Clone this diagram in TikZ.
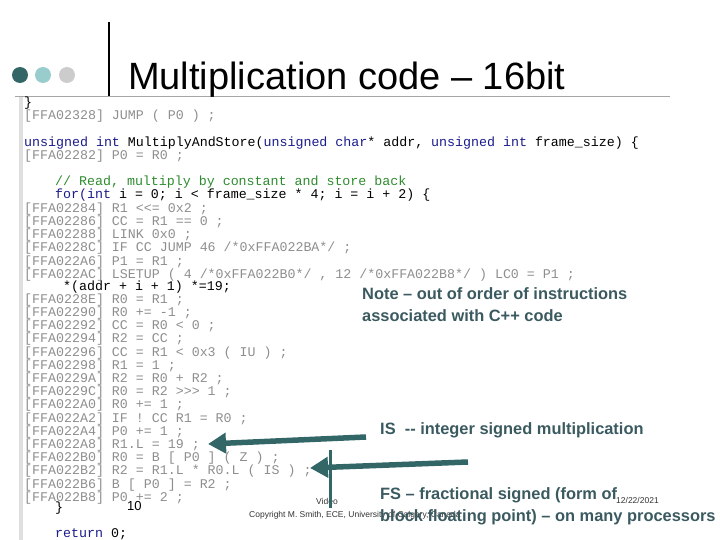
\documentclass[tikz,border=0pt]{standalone}
\usepackage{fontspec}
\setmainfont{Liberation Sans}
\newfontfamily\codefont{Liberation Mono}
\usetikzlibrary{arrows.meta}
\definecolor{teal1}{HTML}{336666}
\definecolor{teal2}{HTML}{99CCCC}
\definecolor{gray3}{HTML}{CCCCCC}
\definecolor{asm}{HTML}{8E8E8E}
\definecolor{kw}{HTML}{1A1A8C}
\definecolor{cm}{HTML}{2E8B2E}
\definecolor{note}{HTML}{3A5A60}
\begin{document}
\begin{tikzpicture}[x=1pt,y=-1pt,
  code/.style={anchor=base west,inner sep=0pt,font=\codefont\fontsize{13.3}{13}\selectfont},
  asmline/.style={code,text=asm},
  cline/.style={code,text=black},
  notetext/.style={anchor=base west,inner sep=0pt,text=note,font=\bfseries\fontsize{16.4}{17}\selectfont},
  small/.style={anchor=base west,inner sep=0pt,text=black!80,font=\fontsize{8.5}{9}\selectfont},
  arr/.style={teal1,line width=5.5pt,-{Triangle[length=18pt,width=20pt]}}]
\useasboundingbox (0,0) rectangle (720,540);
% header
\fill[teal1] (20,75) circle (8);
\fill[teal2] (43,75) circle (8);
\fill[gray3] (67,75) circle (8);
\draw[line width=2.5pt] (109,22) -- (109,96);
\draw[gray!70,line width=0.8pt] (15,96) -- (670,96);
\node[anchor=base west,inner sep=0pt,font=\fontsize{38}{38}\selectfont] (title) at (128,90) {Multiplication code -- 16bit};
\fill[gray!25] (19,97) rectangle (23,540);
% code
\node[cline] (l1) at (24,107) {\}};
\node[asmline] (l2) at (24,120) {[FFA02328] JUMP ( P0 ) ;};
\node[cline] (l3) at (24,147) {\textcolor{kw}{unsigned int} MultiplyAndStore(\textcolor{kw}{unsigned char}* addr, \textcolor{kw}{unsigned int} frame\_size) \{};
\node[asmline] (l4) at (24,160) {[FFA02282] P0 = R0 ;};
\node[code,text=cm] (l5) at (55,186) {// Read, multiply by constant and store back};
\node[cline] (l6) at (55,199) {\textcolor{kw}{for(int} i = 0; i < frame\_size * 4; i = i + 2) \{};
\foreach \t [count=\i] in {%
 {[FFA02284] R1 <<= 0x2 ;},
 {[FFA02286] CC = R1 == 0 ;},
 {[FFA02288] LINK 0x0 ;},
 {[FFA0228C] IF CC JUMP 46 /*0xFFA022BA*/ ;},
 {[FFA022A6] P1 = R1 ;},
 {[FFA022AC] LSETUP ( 4 /*0xFFA022B0*/ , 12 /*0xFFA022B8*/ ) LC0 = P1 ;}}
 \node[asmline] (a\i) at (24,{199+13.2*\i}) {\t};
\node[cline] (l7) at (63,290) {*(addr + i + 1) *=19;};
\foreach \t [count=\i] in {%
 {[FFA0228E] R0 = R1 ;},
 {[FFA02290] R0 += -1 ;},
 {[FFA02292] CC = R0 < 0 ;},
 {[FFA02294] R2 = CC ;},
 {[FFA02296] CC = R1 < 0x3 ( IU ) ;},
 {[FFA02298] R1 = 1 ;},
 {[FFA0229A] R2 = R0 + R2 ;},
 {[FFA0229C] R0 = R2 >>> 1 ;},
 {[FFA022A0] R0 += 1 ;},
 {[FFA022A2] IF ! CC R1 = R0 ;},
 {[FFA022A4] P0 += 1 ;},
 {[FFA022A8] R1.L = 19 ;},
 {[FFA022B0] R0 = B [ P0 ] ( Z ) ;},
 {[FFA022B2] R2 = R1.L * R0.L ( IS ) ;},
 {[FFA022B6] B [ P0 ] = R2 ;},
 {[FFA022B8] P0 += 2 ;}}
 \node[asmline] (b\i) at (24,{290+13.2*\i}) {\t};
\node[cline] (l8) at (55,511) {\}};
\node[cline] (l9) at (55,537) {\textcolor{kw}{return} 0;};
\node[anchor=base west,inner sep=0pt,font=\fontsize{13}{13}\selectfont] (pg) at (127,510) {10};
% footer
\node[small] (video) at (316,504) {Video};
\node[small] (copy) at (249,517) {Copyright M. Smith, ECE, University of Calgary, Canada};
\node[small] (date) at (616,503) {12/22/2021};
% notes
\node[notetext] (n1) at (362,299) {Note -- out of order of instructions};
\node[notetext] (n2) at (362,321) {associated with C++ code};
\node[notetext] (is) at (380,434) {IS \ -{}- integer signed multiplication};
\node[notetext] (fs1) at (380,499) {FS -- fractional signed (form of};
\node[notetext] (fs2) at (380,521) {block floating point) -- on many processors};
% arrows
\coordinate (s1) at (366,437);
\coordinate (e1) at (208,444);
\coordinate (s2) at (468,462);
\coordinate (e2) at (310,468);
\draw[arr] (s1) -- (e1);
\draw[arr] (s2) -- (e2);
\coordinate (v1) at (330,450);
\coordinate (v2) at (330,508);
\draw[teal1,line width=3pt] (v1) -- (v2);
\end{tikzpicture}
\end{document}
